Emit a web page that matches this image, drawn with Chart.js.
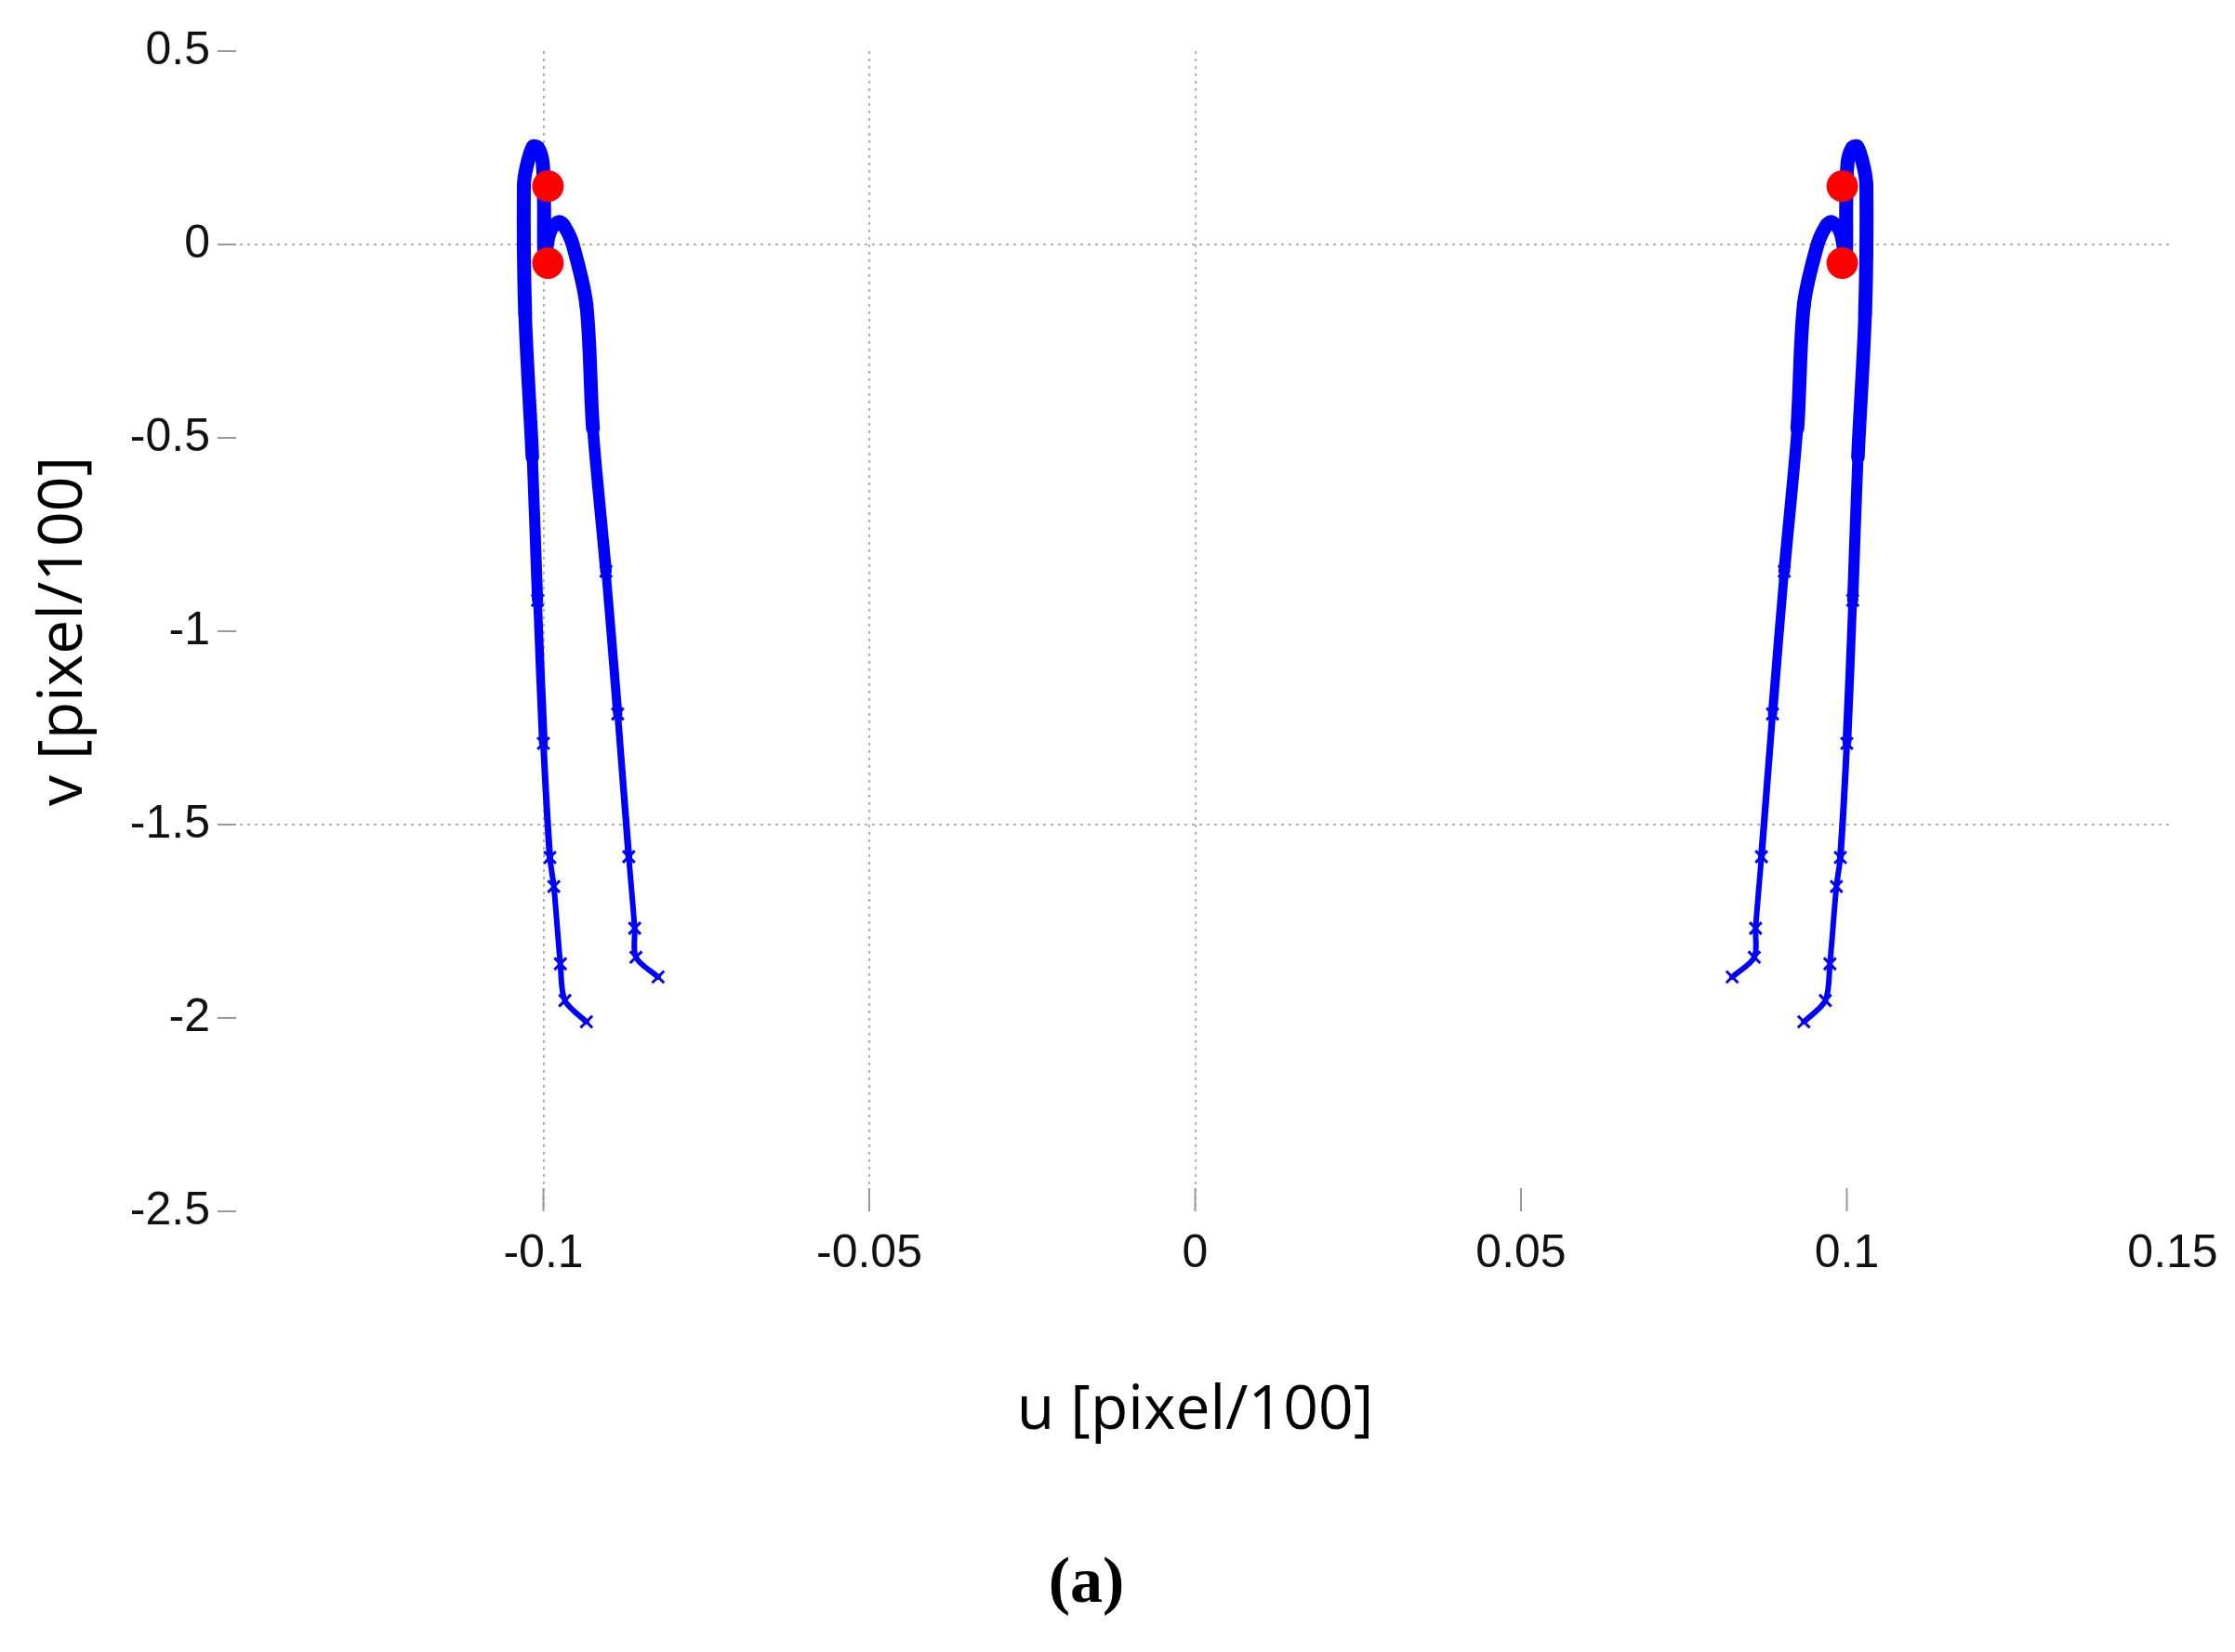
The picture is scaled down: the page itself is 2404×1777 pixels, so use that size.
<!DOCTYPE html>
<html><head><meta charset="utf-8">
<script src="https://cdn.jsdelivr.net/npm/chart.js@4.4.1/dist/chart.umd.min.js"></script>
<style>html,body{margin:0;padding:0;background:#fff}#w{width:2404px;height:1777px}</style>
</head><body><div id="w"><canvas id="c"></canvas></div>
<script>
const xTicks = [-0.1, -0.05, 0, 0.05, 0.1, 0.15];
const xTickMarks = [-0.1, -0.05, 0, 0.05, 0.1];
const yTicks = [0.5, 0, -0.5, -1, -1.5, -2, -2.5];
const leftU = [-0.0934,-0.0967,-0.0974,-0.0984,-0.0990,-0.1000,-0.1009,-0.1017,-0.1028,-0.1030,-0.1026,-0.1016,-0.1008,-0.1001,-0.0999,-0.0999,-0.0998,-0.0994,-0.0988,-0.0976,-0.0968,-0.0955,-0.0934,-0.0924,-0.0904,-0.0886,-0.0869,-0.0860,-0.0858,-0.0824];
const leftV = [-2.01,-1.955,-1.86,-1.66,-1.585,-1.29,-0.92,-0.55,-0.18,0.15,0.20,0.253,0.25,0.21,0.10,0.005,-0.055,0.005,0.04,0.058,0.048,0.0,-0.157,-0.476,-0.845,-1.214,-1.583,-1.768,-1.843,-1.894];
const rightU = [0.0934,0.0967,0.0974,0.0984,0.0990,0.1000,0.1009,0.1017,0.1028,0.1030,0.1026,0.1016,0.1008,0.1001,0.0999,0.0999,0.0998,0.0994,0.0988,0.0976,0.0968,0.0955,0.0934,0.0924,0.0904,0.0886,0.0869,0.0860,0.0858,0.0824];
const rightV = [-2.01,-1.955,-1.86,-1.66,-1.585,-1.29,-0.92,-0.55,-0.18,0.15,0.20,0.253,0.25,0.21,0.10,0.005,-0.055,0.005,0.04,0.058,0.048,0.0,-0.157,-0.476,-0.845,-1.214,-1.583,-1.768,-1.843,-1.894];
const dotU = [-0.0993,-0.0993,0.0993,0.0993];
const dotV = [0.151,-0.048,0.151,-0.048];

const pts = (us, vs) => us.map((u, i) => ({x: u, y: vs[i]}));
const segW = ctx => {
  const v = (ctx.p0.parsed.y + ctx.p1.parsed.y) / 2;
  return Math.max(6, Math.min(15, 15 + (v + 0.3) * 7));
};
const curve = (data) => ({
  type: 'scatter', data, showLine: true, borderColor: '#0000ff', backgroundColor: '#0000ff',
  pointStyle: 'crossRot', pointRadius: c => (c.raw && c.raw.y < -0.8 ? 9 : 0), pointBorderWidth: 3, borderWidth: 6,
  borderCapStyle: 'round', borderJoinStyle: 'round',
  segment: {borderWidth: segW}, tension: 0.3, order: 2
});
const tickMarks = {
  id: 'tickMarks',
  afterDraw(chart) {
    const {ctx, chartArea: a, scales: {x, y}} = chart;
    ctx.save(); ctx.strokeStyle = '#999'; ctx.lineWidth = 2;
    yTicks.forEach(v => { const p = y.getPixelForValue(v); ctx.beginPath(); ctx.moveTo(a.left, p); ctx.lineTo(a.left + 20, p); ctx.stroke(); });
    xTickMarks.forEach(v => { const p = x.getPixelForValue(v); ctx.beginPath(); ctx.moveTo(p, a.bottom); ctx.lineTo(p, a.bottom - 25); ctx.stroke(); });
    ctx.restore();
  }
};
new Chart(document.getElementById('c'), {
  type: 'scatter',
  data: { datasets: [
    curve(pts(leftU, leftV)),
    curve(pts(rightU, rightV)),
    {type: 'scatter', data: pts(dotU, dotV), pointRadius: 17, pointBackgroundColor: '#ff0000', pointBorderWidth: 0, order: 1}
  ]},
  options: {
    responsive: true, maintainAspectRatio: false, animation: false,
    layout: {padding: {top: 55, right: 67, left: 0, bottom: 0}},
    plugins: {
      legend: {display: false}, tooltip: {enabled: false},
      title: {display: true, position: 'bottom', text: '(a)', color: '#000',
        font: {family: 'Liberation Serif', size: 70, weight: 'bold'}, padding: {top: 10, bottom: 30}}
    },
    scales: {
      x: {
        type: 'linear', min: -0.15, max: 0.15,
        afterBuildTicks: s => { s.ticks = xTicks.map(v => ({value: v})); },
        afterFit: s => { s.height = 350; },
        border: {display: false, dash: [3, 5]},
        grid: {drawTicks: false, lineWidth: 2,
          color: c => ([-0.1, -0.05, 0].includes(c.tick && c.tick.value) ? '#b0b0b0' : 'rgba(0,0,0,0)')},
        ticks: {padding: 16, color: '#111', font: {family: 'Liberation Sans Narrow, Liberation Sans', size: 50},
          callback: v => String(v)},
        title: {display: true, text: 'u [pixel/100]', color: '#000', font: {family: 'Open Sans', size: 66}, padding: {top: 0, bottom: 95}}
      },
      y: {
        type: 'linear', min: -2.5, max: 0.5,
        afterBuildTicks: s => { s.ticks = yTicks.map(v => ({value: v})); },
        afterFit: s => { s.width = 234; },
        border: {display: false, dash: [3, 5]},
        grid: {drawTicks: false, lineWidth: 2,
          color: c => ([0, -1.5].includes(c.tick && c.tick.value) ? '#b0b0b0' : 'rgba(0,0,0,0)')},
        ticks: {padding: 8, color: '#111', font: {family: 'Liberation Sans Narrow, Liberation Sans', size: 50},
          callback: v => String(v)},
        title: {display: true, text: 'v [pixel/100]', color: '#000', font: {family: 'Open Sans', size: 66}, padding: {top: 30, bottom: 0}}
      }
    }
  },
  plugins: [tickMarks]
});
</script></body></html>
